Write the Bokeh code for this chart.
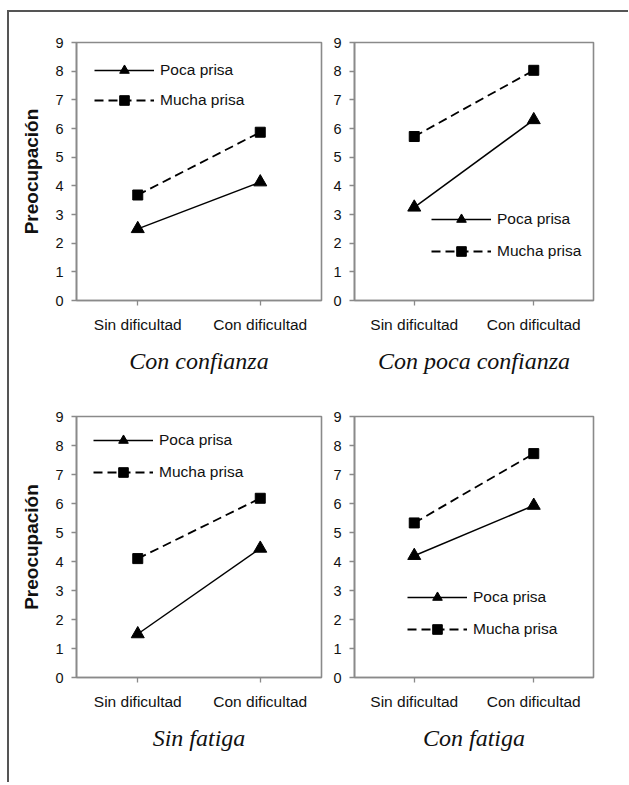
from bokeh.plotting import figure
from bokeh.layouts import gridplot
from bokeh.models import Range1d, FixedTicker, Legend, LegendItem
from bokeh.embed import file_html
from bokeh.resources import INLINE

# ---- data ----
categories = ["Sin dificultad", "Con dificultad"]
panel_titles = ["Con confianza", "Con poca confianza", "Sin fatiga", "Con fatiga"]
series_names = ["Poca prisa", "Mucha prisa"]
y_ticks = [0, 1, 2, 3, 4, 5, 6, 7, 8, 9]
y_label = "Preocupación"

poca_con_confianza = [2.5, 4.13]
mucha_con_confianza = [3.68, 5.87]
poca_poca_confianza = [3.25, 6.3]
mucha_poca_confianza = [5.72, 8.03]
poca_sin_fatiga = [1.5, 4.45]
mucha_sin_fatiga = [4.1, 6.18]
poca_con_fatiga = [4.2, 5.93]
mucha_con_fatiga = [5.33, 7.72]

panel_data = [
    (poca_con_confianza, mucha_con_confianza),
    (poca_poca_confianza, mucha_poca_confianza),
    (poca_sin_fatiga, mucha_sin_fatiga),
    (poca_con_fatiga, mucha_con_fatiga),
]

# ---- layout (sizes / positions) ----
layout = [
    dict(w=320, h=378, bl=66, br=8, bt=30, bb=88, lx=18, ly=188, sp=6, ylab=True),
    dict(w=299, h=378, bl=23, br=35, bt=30, bb=90, lx=77, ly=37, sp=8, ylab=False),
    dict(w=320, h=392, bl=67, br=8, bt=26, bb=105, lx=17, ly=193, sp=8, ylab=True),
    dict(w=299, h=392, bl=25, br=35, bt=26, bb=105, lx=53, ly=36, sp=8, ylab=False),
]

SANS = "Liberation Sans"
SERIF = "Liberation Serif"
GRAY = "#8a8a8a"

figs = []
for title, (poca, mucha), L in zip(panel_titles, panel_data, layout):
    p = figure(width=L["w"], height=L["h"], x_range=categories, y_range=Range1d(0, 9),
               output_backend="svg", toolbar_location=None,
               min_border_left=L["bl"], min_border_right=L["br"],
               min_border_top=L["bt"], min_border_bottom=L["bb"],
               title=title, title_location="below")
    p.title.text_font = SERIF
    p.title.text_font_style = "italic"
    p.title.text_font_size = "24px"
    p.title.text_color = "#111111"
    p.title.align = "center"
    p.title.standoff = 20

    p.xgrid.visible = False
    p.ygrid.visible = False
    p.outline_line_color = GRAY
    p.outline_line_width = 1.6
    p.background_fill_color = "white"
    p.border_fill_color = "white"

    p.yaxis.ticker = FixedTicker(ticks=y_ticks)
    p.yaxis.minor_tick_line_color = None
    p.yaxis.major_tick_in = 0
    p.yaxis.major_tick_out = 5
    p.yaxis.major_label_standoff = 8
    p.yaxis.major_label_text_font = SANS
    p.yaxis.major_label_text_font_size = "14.5px"
    p.yaxis.major_label_text_color = "#111111"
    p.yaxis.axis_line_color = GRAY
    p.yaxis.axis_line_width = 1.6
    p.yaxis.major_tick_line_color = GRAY
    p.yaxis.major_tick_line_width = 1.3
    if L["ylab"]:
        p.yaxis.axis_label = y_label
        p.yaxis.axis_label_text_font = SANS
        p.yaxis.axis_label_text_font_style = "bold"
        p.yaxis.axis_label_text_font_size = "19px"
        p.yaxis.axis_label_text_color = "#111111"
        p.yaxis.axis_label_standoff = 10

    p.xaxis.major_tick_in = 0
    p.xaxis.major_tick_out = 5
    p.xaxis.major_label_standoff = 10
    p.xaxis.major_label_text_font = SANS
    p.xaxis.major_label_text_font_size = "15.5px"
    p.xaxis.major_label_text_color = "#111111"
    p.xaxis.axis_line_color = GRAY
    p.xaxis.axis_line_width = 1.6
    p.xaxis.major_tick_line_color = GRAY
    p.xaxis.major_tick_line_width = 1.3

    l1 = p.line(categories, poca, line_color="black", line_width=1.5)
    m1 = p.scatter(categories, poca, marker="triangle", size=13, color="black")
    l2 = p.line(categories, mucha, line_color="black", line_width=1.8, line_dash="9 5")
    m2 = p.scatter(categories, mucha, marker="square", size=10, color="black")

    legend = Legend(items=[LegendItem(label=series_names[0], renderers=[l1, m1]),
                           LegendItem(label=series_names[1], renderers=[l2, m2])],
                    location=(L["lx"], L["ly"]))
    legend.border_line_color = None
    legend.background_fill_alpha = 0
    legend.padding = 0
    legend.margin = 0
    legend.spacing = L["sp"]
    legend.glyph_width = 60
    legend.glyph_height = 24
    legend.label_height = 24
    legend.label_standoff = 6
    legend.label_text_font = SANS
    legend.label_text_font_size = "15.5px"
    legend.label_text_color = "#111111"
    p.add_layout(legend, "center")
    figs.append(p)

grid = gridplot([[figs[0], figs[1]], [figs[2], figs[3]]], toolbar_location=None)
grid.styles = {"border-left": "2px solid #555555", "border-top": "2px solid #555555",
               "margin-top": "10px", "margin-left": "7px"}

open("out.html", "w").write(file_html(grid, INLINE))
